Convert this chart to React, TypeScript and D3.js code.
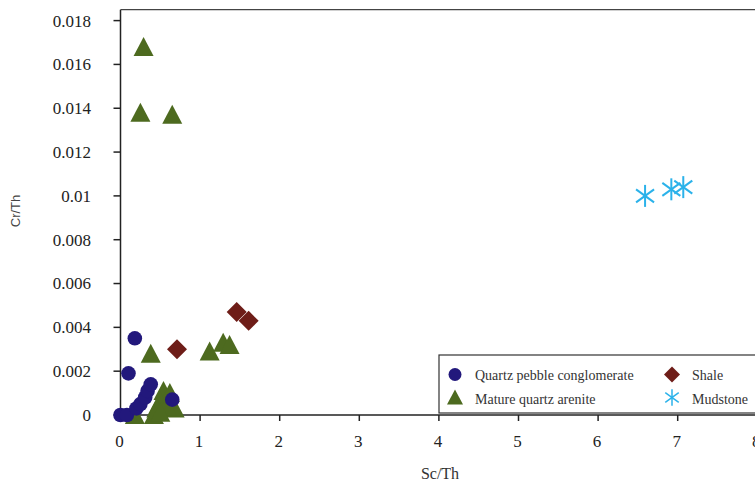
import React from "react";
import * as d3 from "d3";

type Pt = { x: number; y: number };

const conglomerate: Pt[] = [
  { x: 0, y: 0 }, { x: 0.08, y: 0 }, { x: 0.2, y: 0.0003 }, { x: 0.25, y: 0.0005 },
  { x: 0.31, y: 0.0008 }, { x: 0.34, y: 0.0011 }, { x: 0.38, y: 0.0014 },
  { x: 0.1, y: 0.0019 }, { x: 0.18, y: 0.0035 }, { x: 0.65, y: 0.0007 },
];
const arenite: Pt[] = [
  { x: 0.29, y: 0.0168 }, { x: 0.25, y: 0.0138 }, { x: 0.65, y: 0.0137 },
  { x: 0.38, y: 0.0028 }, { x: 1.12, y: 0.0029 }, { x: 1.29, y: 0.0033 }, { x: 1.37, y: 0.0032 },
  { x: 0.54, y: 0.0011 }, { x: 0.62, y: 0.001 }, { x: 0.5, y: 0.0006 }, { x: 0.45, y: 0.0003 },
  { x: 0.68, y: 0.0003 }, { x: 0.58, y: 0.0004 }, { x: 0.18, y: 0 }, { x: 0.42, y: 0 }, { x: 0.5, y: 0.0001 },
];
const shale: Pt[] = [
  { x: 0.71, y: 0.003 }, { x: 1.46, y: 0.0047 }, { x: 1.61, y: 0.0043 },
];
const mudstone: Pt[] = [
  { x: 6.59, y: 0.01 }, { x: 6.92, y: 0.0103 }, { x: 7.07, y: 0.0104 },
];

const xTicks = [0, 1, 2, 3, 4, 5, 6, 7, 8];
const yTicks = [0, 0.002, 0.004, 0.006, 0.008, 0.01, 0.012, 0.014, 0.016, 0.018];
const yTickLabels = ["0", "0.002", "0.004", "0.006", "0.008", "0.01", "0.012", "0.014", "0.016", "0.018"];
const legendNames = ["Quartz pebble conglomerate", "Mature quartz arenite", "Shale", "Mudstone"];

const C_NAVY = "#22187c";
const C_GREEN = "#4d6a1f";
const C_RED = "#6e1d18";
const C_BLUE = "#2bb2ea";

const x = d3.scaleLinear().domain([0, 8]).range([120.5, 757.3]);
const y = d3.scaleLinear().domain([0, 0.018]).range([415, 20.6]);
const yTop = y(0.0185);

const triPath = "M0,-10L10,9L-10,9Z";
const diaPath = "M0,-10L10,0L0,10L-10,0Z";

const SERIF = "'Times New Roman', Tinos, 'Liberation Serif', 'DejaVu Serif', 'Noto Serif', serif";
const SANS = "'Liberation Sans', Arial, sans-serif";

function Asterisk({ cx, cy, s = 1 }: { cx: number; cy: number; s?: number }) {
  return (
    <g transform={`translate(${cx},${cy}) scale(${s})`} stroke={C_BLUE} strokeWidth={2} fill="none">
      <line x1={0} y1={-11} x2={0} y2={11} />
      <line x1={-9} y1={-6.5} x2={9} y2={6.5} />
      <line x1={-9} y1={6.5} x2={9} y2={-6.5} />
    </g>
  );
}

export default function App() {
  const serifStyle = { fontFamily: SERIF };
  return (
    <svg width={755} height={503} style={{ position: "absolute", left: 0, top: 0, background: "#fff" }}>
      <rect x={0} y={0} width={755} height={503} fill="#fff" />
      {/* frame */}
      <line x1={x(0)} y1={yTop} x2={760} y2={yTop} stroke="#444" strokeWidth={1.2} />
      <line x1={x(0)} y1={yTop} x2={x(0)} y2={y(0)} stroke="#222" strokeWidth={1.5} />
      <line x1={x(0)} y1={y(0)} x2={760} y2={y(0)} stroke="#222" strokeWidth={1.5} />
      {/* y ticks */}
      {yTicks.map((t, i) => (
        <g key={"y" + i}>
          <line x1={x(0) - 7} x2={x(0)} y1={y(t)} y2={y(t)} stroke="#222" strokeWidth={1.5} />
          <text x={91} y={y(t)} dy="0.35em" textAnchor="end" style={serifStyle} fontSize={17} fill="#222">
            {yTickLabels[i]}
          </text>
        </g>
      ))}
      {/* x ticks */}
      {xTicks.map((t) => (
        <g key={"x" + t}>
          <line x1={x(t)} x2={x(t)} y1={y(0)} y2={y(0) + 6} stroke="#222" strokeWidth={1.5} />
          <text x={x(t) - 1} y={446.5} textAnchor="middle" style={serifStyle} fontSize={17} fill="#222">
            {t}
          </text>
        </g>
      ))}
      {/* axis titles */}
      <text x={440} y={479} textAnchor="middle" style={serifStyle} fontSize={16} fill="#333">Sc/Th</text>
      <text transform="translate(20,211) rotate(-90)" textAnchor="middle" style={{ fontFamily: SANS }} fontSize={13} fill="#444">Cr/Th</text>

      {/* data */}
      {arenite.map((d, i) => (
        <path key={"a" + i} d={triPath} transform={`translate(${x(d.x)},${y(d.y)})`} fill={C_GREEN} />
      ))}
      {conglomerate.map((d, i) => (
        <circle key={"c" + i} cx={x(d.x)} cy={y(d.y)} r={7.3} fill={C_NAVY} />
      ))}
      {shale.map((d, i) => (
        <path key={"s" + i} d={diaPath} transform={`translate(${x(d.x)},${y(d.y)})`} fill={C_RED} />
      ))}
      {mudstone.map((d, i) => (
        <Asterisk key={"m" + i} cx={x(d.x)} cy={y(d.y)} />
      ))}

      {/* legend */}
      <rect x={439} y={355} width={330} height={58} fill="#fff" stroke="#333" strokeWidth={1.2} />
      <circle cx={455} cy={374.5} r={6.5} fill={C_NAVY} />
      <text x={475} y={379.5} style={serifStyle} fontSize={14} fill="#333">{legendNames[0]}</text>
      <path d="M0,-8L8,7L-8,7Z" transform="translate(455,397.5)" fill={C_GREEN} />
      <text x={475} y={404} style={serifStyle} fontSize={14} fill="#333">{legendNames[1]}</text>
      <path d="M0,-8L8,0L0,8L-8,0Z" transform="translate(672,374.5)" fill={C_RED} />
      <text x={692} y={379.5} style={serifStyle} fontSize={14} fill="#333">{legendNames[2]}</text>
      <Asterisk cx={672} cy={397.5} s={0.75} />
      <text x={692} y={404} style={serifStyle} fontSize={14} fill="#333">{legendNames[3]}</text>
    </svg>
  );
}
